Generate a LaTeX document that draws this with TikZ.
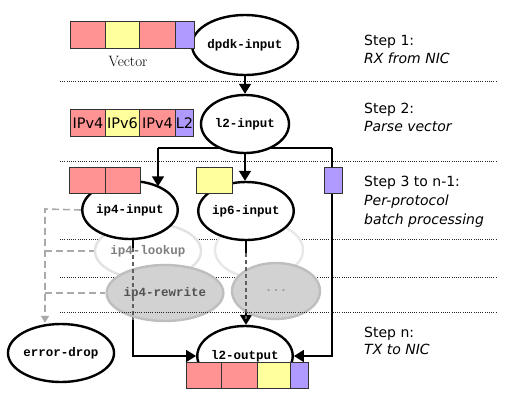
\documentclass[tikz,border=0pt]{standalone}
\usepackage{fontspec}
\newfontfamily\dvs{DejaVu Sans}
\newfontfamily\cour{Liberation Mono}
\usetikzlibrary{arrows.meta,shapes.geometric,calc}
\definecolor{pk}{HTML}{FF9393}
\definecolor{ye}{HTML}{FFFF9C}
\definecolor{pu}{HTML}{B09AFF}
\definecolor{boxc}{HTML}{333333}
\definecolor{lkpb}{HTML}{E2E2E2}
\definecolor{rwf}{HTML}{D2D2D2}
\definecolor{rwb}{HTML}{BEBEBE}
\definecolor{gd}{HTML}{AAAAAA}
\definecolor{dk}{HTML}{606060}
\pgfdeclarelayer{bg}
\pgfdeclarelayer{lines}
\pgfdeclarelayer{ghost}
\pgfdeclarelayer{over}
\pgfsetlayers{bg,lines,ghost,over,main}
\tikzset{
  mainnode/.style={ellipse, draw=black, line width=2.4pt, fill=white, inner sep=0pt,
    minimum width=88pt, minimum height=58pt, font=\cour\bfseries\fontsize{12.5}{14}\selectfont},
  lightnode/.style={ellipse, draw=lkpb, line width=2.4pt, fill=white, inner sep=0pt,
    minimum width=88pt, minimum height=56pt, text=black!50, font=\cour\bfseries\fontsize{12.5}{14}\selectfont},
  graynode/.style={ellipse, draw=rwb, line width=2.4pt, fill=rwf, inner sep=0pt,
    minimum width=88pt, minimum height=56pt, text=black!68, font=\cour\bfseries\fontsize{12.5}{14}\selectfont},
  pkt/.style={draw=boxc, line width=0.9pt, inner sep=0pt, anchor=north west, minimum height=27pt,
    font=\dvs\fontsize{14.5}{16}\selectfont},
  conn/.style={line width=1.6pt, draw=black, -{Triangle[length=10pt,width=12pt]}},
  plainline/.style={line width=1.6pt, draw=black},
  dashov/.style={line width=1.6pt, draw=dk, dash pattern=on 4pt off 3pt},
  gdash/.style={line width=1.6pt, draw=gd, dash pattern=on 7pt off 4pt},
  dotline/.style={line width=0.8pt, draw=black!85, dash pattern=on 1pt off 1.2pt},
  steptxt/.style={anchor=base west, inner sep=0pt, font=\dvs\fontsize{14}{17}\selectfont},
  stepit/.style={steptxt, font=\dvs\itshape\fontsize{14}{17}\selectfont},
}
\begin{document}
\begin{tikzpicture}[x=1pt,y=-1pt]
\useasboundingbox (0,0) rectangle (509,413);

% ghost nodes
\begin{pgfonlayer}{ghost}
\node[lightnode] (lkp) at (148,251) {ip4-lookup};
\node[lightnode, draw=black!9] (g6) at (259,250) {};
\node[graynode] (rw) at (165,293) {ip4-rewrite};
\node[graynode, text=black!40] (dots) at (276,291) {...};
\end{pgfonlayer}

% main nodes
\node[mainnode, minimum height=60pt] (dpdk) at (245,45) {dpdk-input};
\node[mainnode] (l2i) at (245,124) {l2-input};
\node[mainnode] (ip4) at (130,210) {ip4-input};
\node[mainnode] (ip6) at (246,211) {ip6-input};
\node[mainnode, minimum height=60pt] (l2o) at (245,356) {l2-output};
\node[mainnode] (erd) at (61,353) {error-drop};

% vectors
\node[pkt, fill=pk, minimum width=35pt] (va) at (70,21) {};
\node[pkt, fill=ye, minimum width=34pt] (vb) at (105,21) {};
\node[pkt, fill=pk, minimum width=36pt] (vc) at (139,21) {};
\node[pkt, fill=pu, minimum width=19pt] (vd) at (175,21) {};
\node[font=\fontsize{15}{17}\selectfont, inner sep=0pt] (vlab) at (128,61) {Vector};

\node[pkt, fill=pk, minimum width=35pt] (pa) at (70,109) {IPv4};
\node[pkt, fill=ye, minimum width=34pt] (pb) at (105,109) {IPv6};
\node[pkt, fill=pk, minimum width=36pt] (pc) at (139,109) {IPv4};
\node[pkt, fill=pu, minimum width=18pt] (pd) at (175,109) {L2};

\node[pkt, fill=pk, minimum width=36pt, minimum height=26pt] (qa) at (69,167) {};
\node[pkt, fill=pk, minimum width=35pt, minimum height=26pt] (qb) at (105,167) {};
\node[pkt, fill=ye, minimum width=36pt, minimum height=26pt] (qc) at (196,167) {};
\node[pkt, fill=pu, minimum width=18pt, minimum height=26pt] (qd) at (324,167) {};

\node[pkt, fill=pk, minimum width=35pt, minimum height=26pt] (oa) at (186,362) {};
\node[pkt, fill=pk, minimum width=36pt, minimum height=26pt] (ob) at (221,362) {};
\node[pkt, fill=ye, minimum width=33pt, minimum height=26pt] (oc) at (257,362) {};
\node[pkt, fill=pu, minimum width=18pt, minimum height=26pt] (od) at (290,362) {};

% step texts
\node[steptxt] (s1a) at (364,45) {Step 1:};
\node[stepit] (s1b) at (364,63) {RX from NIC};
\node[steptxt] (s2a) at (364,113) {Step 2:};
\node[stepit] (s2b) at (364,131) {Parse vector};
\node[steptxt] (s3a) at (364,186) {Step 3 to n-1:};
\node[stepit] (s3b) at (364,205) {Per-protocol};
\node[stepit] (s3c) at (364,224) {batch processing};
\node[steptxt] (s4a) at (364,337) {Step n:};
\node[stepit] (s4b) at (364,354) {TX to NIC};

% dotted separators
\begin{pgfonlayer}{bg}
\foreach \yy in {81,161,239,277} \draw[dotline] (60,\yy) -- (497,\yy);
\end{pgfonlayer}

% connectors
\coordinate (j4) at (158,148);
\coordinate (j2) at (332,148);
\coordinate (gx) at (45,209);
\coordinate (a1) at ([xshift=3pt]ip4.south);
\begin{pgfonlayer}{lines}
\draw[conn] (dpdk.south) -- (l2i.north);
\draw[plainline] (j4) -- (j2);
\draw[conn] (j4) -- (j4 |- ip4.38);
\draw[conn] (l2i.south) -- (l2i.south |- ip6.north);
\draw[conn] (j2) |- (l2o.east);
\draw[conn] (a1) |- (l2o.west);
\draw[conn] (ip6.south) -- (ip6.south |- l2o.north);
\draw[gdash, -{Triangle[length=7pt,width=8pt]}] (ip4.west) -- (gx) -- (gx |- erd.north);
\draw[gdash] (gx |- lkp.west) -- (lkp.west);
\draw[gdash] (gx |- rw.west) -- (rw.west);
\end{pgfonlayer}

\begin{pgfonlayer}{over}
\draw[plainline] (a1) -- ($(a1)+(0,8)$);
\draw[dashov] ($(a1)+(0,8)$) -- ($(a1 |- rw.south)+(0,-2)$);
\draw[plainline] (ip6.south) -- ($(ip6.south)+(0,12)$);
\draw[dashov] ($(ip6.south)+(0,12)$) -- ($(ip6.south |- dots.south)+(0,-1)$);
\draw[dotline] (60,312) -- (497,312);
\end{pgfonlayer}
\end{tikzpicture}
\end{document}
